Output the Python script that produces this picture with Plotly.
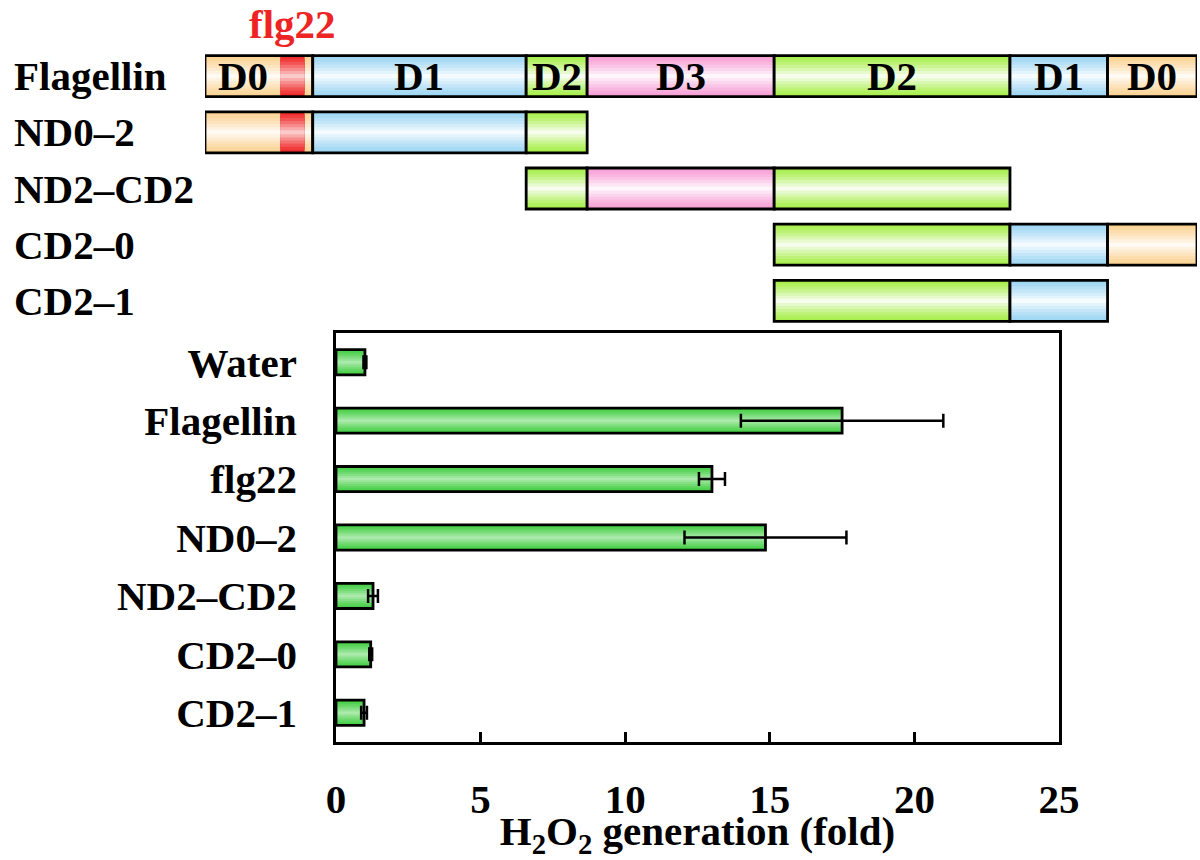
import plotly.graph_objects as go

# ---------------- data ----------------
# Domain map (positions in residue-like units along flagellin)
flagellin_bounds = [0, 53, 158, 188, 280, 396, 444, 488]
flagellin_domains = ["D0", "D1", "D2", "D3", "D2", "D1", "D0"]
flg22_span = [37, 49]
constructs = ["Flagellin", "ND0–2", "ND2–CD2", "CD2–0", "CD2–1"]
# index range (first, last) of flagellin segments contained in each construct
construct_segments = [(0, 6), (0, 2), (2, 4), (4, 6), (4, 5)]

# Bar chart
samples = ["Water", "Flagellin", "flg22", "ND0–2", "ND2–CD2", "CD2–0", "CD2–1"]
h2o2_fold = [1.0, 17.5, 13.0, 14.85, 1.28, 1.2, 0.97]
h2o2_err = [0.05, 3.5, 0.45, 2.8, 0.17, 0.05, 0.1]
x_ticks = [0, 5, 10, 15, 20, 25]

# ---------------- style ----------------
FONT = "Liberation Serif"
FS = 41
domain_colors = {"D0": "#fbd394", "D1": "#9fd6f3", "D2": "#a8ee4c", "D3": "#f7a0d6"}
flg22_color = "#f02a2a"
bar_green = "#46cf46"
W = 1200
H = 860


def mix(hexcol, t):
    hexcol = hexcol.lstrip("#")
    r, g, b = (int(hexcol[i:i + 2], 16) for i in (0, 2, 4))
    r = round(r + (255 - r) * t)
    g = round(g + (255 - g) * t)
    b = round(b + (255 - b) * t)
    return f"rgb({r},{g},{b})"


fig = go.Figure()


def gradient_bar(y, base, length, color, width, xa, ya, maxmix=0.9, n=7, outline=True,
                 err=None):
    for k in range(n):
        t = k / (n - 1)
        fig.add_trace(go.Bar(
            y=[y], x=[length], base=[base], orientation="h",
            width=width * (1 - 0.9 * t),
            marker=dict(color=mix(color, maxmix * t ** 1.2), line=dict(width=0)),
            xaxis=xa, yaxis=ya, showlegend=False, hoverinfo="skip"))
    if outline:
        kw = {}
        if err is not None:
            kw["error_x"] = dict(type="data", array=[err], visible=True,
                                 color="black", thickness=2.5, width=7)
        fig.add_trace(go.Bar(
            y=[y], x=[length], base=[base], orientation="h", width=width,
            marker=dict(color="rgba(0,0,0,0)", line=dict(color="black", width=2.8)),
            xaxis=xa, yaxis=ya, showlegend=False, hoverinfo="skip", **kw))


# ---------------- domain map ----------------
for row, (name, (i0, i1)) in enumerate(zip(constructs, construct_segments)):
    for i in range(i0, i1 + 1):
        s, e = flagellin_bounds[i], flagellin_bounds[i + 1]
        dom = flagellin_domains[i]
        gradient_bar(row, s, e - s, domain_colors[dom], 0.73, "x2", "y2", outline=False)
        if i == 0:
            gradient_bar(row, flg22_span[0], flg22_span[1] - flg22_span[0], flg22_color,
                         0.73, "x2", "y2", maxmix=0.75, outline=False)
        gradient_bar(row, s, e - s, domain_colors[dom], 0.73, "x2", "y2", n=0)
    fig.add_annotation(x=12 / W, xref="paper", y=row, yref="y2", text=name,
                       showarrow=False, xanchor="left", yanchor="middle",
                       font=dict(family=FONT, size=FS, color="black", weight="bold"))

# domain labels on full-length flagellin
for i, dom in enumerate(flagellin_domains):
    s, e = flagellin_bounds[i], flagellin_bounds[i + 1]
    if i == 0:
        e = flg22_span[0]
    fig.add_annotation(x=(s + e) / 2, xref="x2", y=0, yref="y2", text=dom,
                       showarrow=False, xanchor="center", yanchor="middle",
                       font=dict(family=FONT, size=FS, color="black", weight="bold"))

fig.add_annotation(x=sum(flg22_span) / 2, xref="x2", y=1 - 24 / H, yref="paper",
                   text="flg22", showarrow=False, xanchor="center", yanchor="middle",
                   font=dict(family=FONT, size=FS, color="#ee2424", weight="bold"))

# ---------------- bar chart ----------------
for name, v, err in zip(samples, h2o2_fold, h2o2_err):
    gradient_bar(name, 0, v, bar_green, 0.43, "x", "y", maxmix=0.55, err=err)

axis_font = dict(family=FONT, size=FS, color="black", weight="bold")
fig.update_layout(
    width=W, height=H, margin=dict(l=0, r=0, t=0, b=0, autoexpand=False),
    paper_bgcolor="white", plot_bgcolor="white",
    barmode="overlay", showlegend=False,
    xaxis=dict(domain=[336 / W, 1059 / W], range=[0, 25], anchor="y",
               automargin=False,
               tickvals=x_ticks, ticks="inside", ticklen=10, tickwidth=2.5,
               tickcolor="black", showline=True, linecolor="black", linewidth=2.8,
               mirror=True, showgrid=False, zeroline=False,
               tickfont=axis_font, ticklabelstandoff=19,
               title=dict(text="H<sub>2</sub>O<sub>2</sub> generation (fold)",
                          font=axis_font, standoff=23)),
    yaxis=dict(domain=[1 - 742 / H, 1 - 333 / H], anchor="x",
               automargin=False,
               type="category", categoryorder="array", categoryarray=samples,
               autorange="reversed", ticks="", showline=True, linecolor="black",
               linewidth=2.8, mirror=True, showgrid=False, zeroline=False,
               tickfont=axis_font, ticklabelstandoff=28),
    xaxis2=dict(domain=[205 / W, 1197 / W], range=[0, 488], anchor="y2",
                automargin=False,
                visible=False, showgrid=False, zeroline=False),
    yaxis2=dict(domain=[1 - 329 / H, 1 - 48 / H], range=[4.5, -0.5], anchor="x2",
                automargin=False,
                visible=False, showgrid=False, zeroline=False),
)

fig.write_html("out.html")
